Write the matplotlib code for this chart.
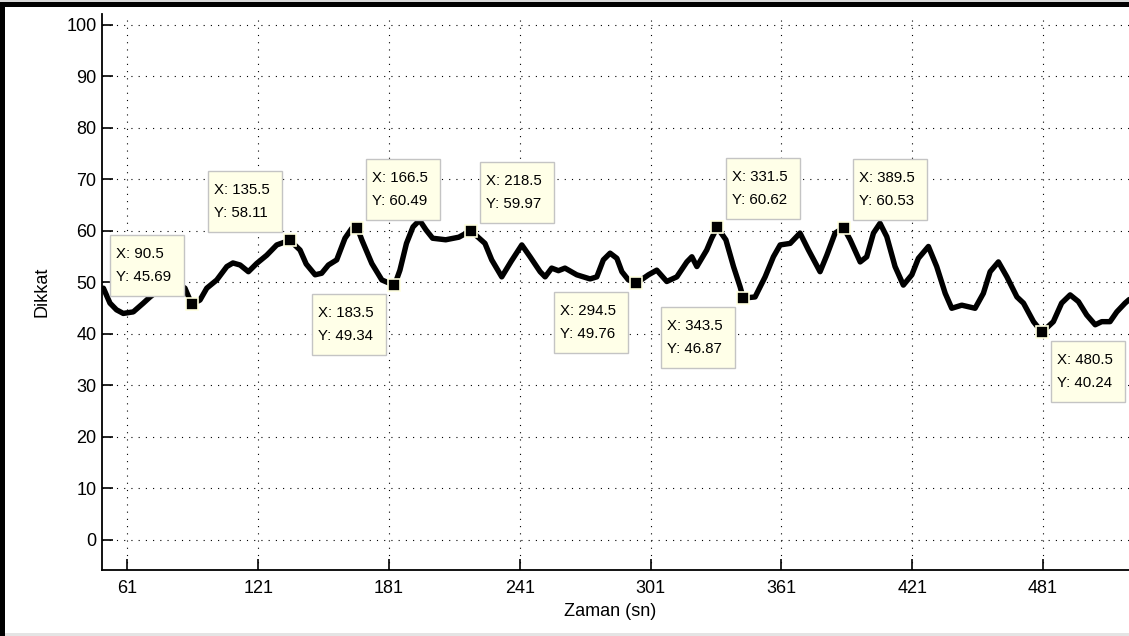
import matplotlib
matplotlib.use('Agg')
import matplotlib.pyplot as plt
from matplotlib.patches import Rectangle
from matplotlib.transforms import IdentityTransform
from matplotlib import font_manager

plt.rcParams['font.family'] = ['Liberation Sans', 'DejaVu Sans']
names = {f.name for f in font_manager.fontManager.ttflist}
axis_font = 'Liberation Sans Narrow' if 'Liberation Sans Narrow' in names else 'Liberation Sans'
axis_size = 14.5 if axis_font == 'Liberation Sans Narrow' else 13

# ---- data ----
time_s = [50, 53, 56, 59.1, 63.7, 68.3, 71.4, 75, 80, 85, 87.4, 90.5, 94.3, 97.4, 102,
          106.6, 109.4, 112.7, 116.5, 120.3, 124.9, 129.5, 135.5, 140.2, 143, 147.1,
          150.1, 153.2, 157, 160.8, 163.9, 166.5, 168.5, 173.1, 177.7, 183.5, 186, 189,
          192, 195, 198, 201, 207, 213, 218.5, 225, 228.1, 232.7, 237, 241.9, 245.7,
          250.3, 252.6, 255.6, 258.7, 261.7, 267.1, 273.2, 276.3, 279.3, 282.4, 285.5,
          287.8, 290.8, 294.5, 300, 303.8, 308.4, 313, 317.6, 319.9, 322.2, 326.7, 329,
          331.5, 335.5, 339, 342, 343.5, 348.9, 353.5, 357.3, 360.4, 365, 369.5, 373.4,
          378.7, 381.8, 385.6, 389.5, 392.5, 397.1, 400.1, 403.2, 406.2, 409.3, 413.1,
          416.9, 420.8, 423.8, 428.4, 432.2, 436.1, 439.1, 443.7, 449.8, 453.6, 456.7,
          460.5, 464.4, 469, 472, 476.6, 480.5, 485.7, 489.5, 493.4, 497.2, 501, 504.9,
          507.9, 511.7, 514.8, 518.6, 520.5]
attention = [48.8, 45.9, 44.6, 43.9, 44.2, 45.9, 47.1, 48.3, 49.3, 49.4, 48.8, 45.69, 46.5,
             48.8, 50.4, 53.0, 53.7, 53.3, 52.0, 53.6, 55.2, 57.2, 58.11, 56.2, 53.5, 51.4,
             51.7, 53.3, 54.3, 58.5, 60.4, 60.49, 58.2, 53.6, 50.4, 49.34, 52.3, 57.5,
             60.7, 62.0, 60.1, 58.5, 58.2, 58.7, 59.97, 57.5, 54.3, 51.0, 54.0, 57.2, 54.9,
             52.0, 51.0, 52.7, 52.2, 52.7, 51.4, 50.6, 51.0, 54.3, 55.6, 54.6,
             52.0, 50.4, 49.76, 51.4, 52.3, 50.1, 51.0, 53.9, 54.9, 53.0, 56.2, 58.5,
             60.62, 58.2, 53.0, 49.1, 46.87, 47.1, 51.0, 54.9, 57.2, 57.5, 59.5, 56.2,
             52.0, 55.2, 59.5, 60.53, 58.2, 53.9, 54.9, 59.5, 61.4, 58.8, 53.0,
             49.4, 51.4, 54.6, 56.9, 53.0, 47.8, 44.9, 45.5, 44.9, 47.8, 52.0,
             53.9, 51.0, 47.1, 45.9, 42.3, 40.24, 42.3, 45.9, 47.5, 46.2, 43.6, 41.7,
             42.3, 42.3, 44.2, 45.9, 46.6]

tip_x = [90.5, 135.5, 166.5, 183.5, 218.5, 294.5, 331.5, 343.5, 389.5, 480.5]
tip_y = [45.69, 58.11, 60.49, 49.34, 59.97, 49.76, 60.62, 46.87, 60.53, 40.24]
tip_side = ['ul', 'ul', 'ur', 'll', 'ur', 'll', 'ur', 'll', 'ur', 'lr']

x_ticks = [61, 121, 181, 241, 301, 361, 421, 481]
y_ticks = [0, 10, 20, 30, 40, 50, 60, 70, 80, 90, 100]

# ---- figure ----
W, H = 1129, 636
fig = plt.figure(figsize=(W / 100, H / 100), dpi=100)
fig.patch.set_facecolor('white')

ax_left, ax_right, ax_top, ax_bot = 102, 1129, 14, 570
ax = fig.add_axes([ax_left / W, 1 - ax_bot / H, (ax_right - ax_left) / W, (ax_bot - ax_top) / H])

ax.plot(time_s, attention, color='black', lw=3.9, solid_joinstyle='round',
        solid_capstyle='round', zorder=3)
ax.plot(tip_x, tip_y, ls='none', marker='s', ms=8.5, mfc='black', mec='#FFFFE0',
        mew=1.2, zorder=5)

ax.set_xlim(49.35, 520.4)
ax.set_ylim(-5.92, 102.04)
ax.set_xticks(x_ticks)
ax.set_yticks(y_ticks)
ax.set_xticklabels([str(t) for t in x_ticks], fontfamily=axis_font)
ax.set_yticklabels([str(t) for t in y_ticks], fontfamily=axis_font)

ax.set_axisbelow(True)
ax.grid(True, color='black', lw=0.8, linestyle=(0, (1, 5.5)))

for s in ['top', 'right']:
    ax.spines[s].set_visible(False)
for s in ['left', 'bottom']:
    ax.spines[s].set_linewidth(1.3)
    ax.spines[s].set_color('black')

ax.tick_params(axis='both', direction='in', length=8, width=1.2, colors='black',
               labelsize=axis_size)
ax.tick_params(axis='x', pad=7)
ax.tick_params(axis='y', pad=4)

ax.set_xlabel('Zaman (sn)', fontsize=axis_size, fontfamily=axis_font)
ax.set_ylabel('Dikkat', fontsize=axis_size, fontfamily=axis_font)
ax.xaxis.set_label_coords((610 - ax_left) / (ax_right - ax_left), -(603 - ax_bot) / (ax_bot - ax_top))
ax.yaxis.set_label_coords((51 - ax_left) / (ax_right - ax_left), 0.5)

# ---- screenshot frame ----
ident = IdentityTransform()
fig.add_artist(Rectangle((0, 0), 5, H, transform=ident, fc='black', ec='none', zorder=10))
fig.add_artist(Rectangle((0, H - 7), W, 5, transform=ident, fc='black', ec='none', zorder=10))
fig.add_artist(Rectangle((0, H - 2), W, 2, transform=ident, fc='#d8d8d8', ec='none', zorder=10))
fig.add_artist(Rectangle((5, 0), W, 3, transform=ident, fc='#e4e4e4', ec='none', zorder=10))

# ---- data tips ----
fig.canvas.draw()
bw, bh = 74, 61
for x, y, side in zip(tip_x, tip_y, tip_side):
    px, py = ax.transData.transform((x, y))
    if side[0] == 'u':
        bottom = py + 8
    else:
        bottom = py - 9 - bh
    if side[1] == 'l':
        left = px - 8 - bw
    else:
        left = px + 9
    fig.add_artist(Rectangle((left, bottom), bw, bh, transform=ident, fc='#FFFFE8',
                             ec='#c4c4c4', lw=1.0, zorder=6))
    top = bottom + bh
    fig.text(left + 6, top - 19, f'X: {x:g}', transform=ident, ha='left', va='center',
             fontsize=10.8, color='black', zorder=7)
    fig.text(left + 6, top - 42, f'Y: {y:.2f}', transform=ident, ha='left', va='center',
             fontsize=10.8, color='black', zorder=7)

fig.savefig('out.png', dpi=100)
